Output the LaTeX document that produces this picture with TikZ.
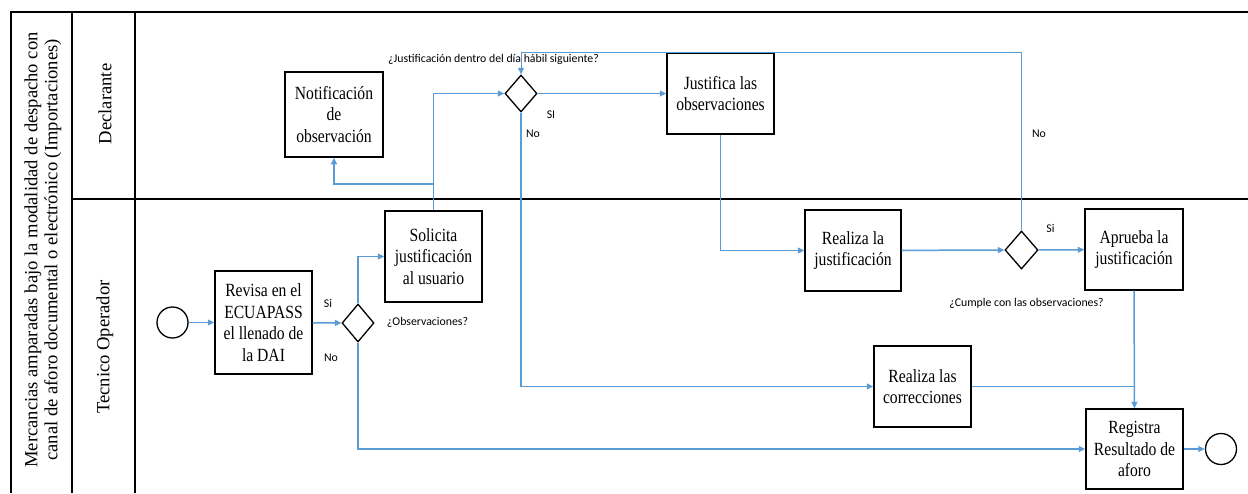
\documentclass[tikz,border=0pt]{standalone}
\usepackage{fontspec}
\setmainfont{Liberation Serif}
\newfontfamily\boxfont{Liberation Serif}[FakeStretch=0.84]
\newfontfamily\lblfont{Carlito}
\usetikzlibrary{shapes.geometric,arrows.meta}
\definecolor{flujo}{RGB}{91,155,213}
\begin{document}
\begin{tikzpicture}  % ------ aforo documental : declarante / tecnico -------------------
      [x=0.5pt,y=-0.5pt,
       tarea/.style={draw,line width=0.65pt,align=center,inner sep=1pt,
                     font=\boxfont\fontsize{9.3}{10.75}\selectfont},
       decision/.style={draw,diamond,line width=0.65pt,inner sep=0pt,
                        minimum width=16pt,minimum height=19pt},
       evento/.style={draw,circle,line width=0.65pt,minimum size=15.5pt,inner sep=0pt},
       flecha/.style={draw=flujo,line width=0.75pt,-{Triangle[length=3.3pt,width=3pt]}},
       traza/.style={draw=flujo,line width=0.75pt},
       rotulo/.style={font=\lblfont\fontsize{5.9}{7}\selectfont,inner sep=0pt},
       carril/.style={font=\fontsize{9.3}{10}\selectfont,rotate=90,align=center}]
    \useasboundingbox (0,0) rectangle (1248,493);
    % marco y carriles
    \draw [line width=0.8pt] (11,493) -- (11,12) -- (1248,12) ;
    \draw [line width=0.8pt] (72,12) -- (72,493) ; \draw [line width=0.8pt] (135,12) -- (135,493) ;
    \draw [line width=0.8pt] (72,199) -- (1248,199) ;
    \node [carril] (titulo) at (43,250) {Mercancias amparadas bajo la modalidad de despacho con\\canal de aforo documental o electrónico (Importaciones)} ;
    \node [carril] (decl) at (105,104) {Declarante} ;
    \node [carril] (tecn) at (105,347) {Tecnico Operador} ;
    % nodos
    \node [evento] (ini) at (172.5,322.5) {} ;
    \node [tarea,minimum width=48.5pt,minimum height=51.5pt] (revisa) at (263.5,322.5) {Revisa en el\\ECUAPASS\\el llenado de\\la DAI} ;
    \node [decision] (obs) at (358,323) {} ;
    \node [tarea,minimum width=48.5pt,minimum height=45.5pt] (solicita) at (433.5,256.5) {Solicita\\justificación\\al usuario} ;
    \node [tarea,minimum width=49pt,minimum height=42.5pt] (notif) at (334,114.5) {Notificación\\de\\observación} ;
    \node [decision,minimum height=18.5pt] (dia) at (521,93.5) {} ;
    \node [tarea,minimum width=53.5pt,minimum height=40.5pt] (justifica) at (720.5,93.5) {Justifica las\\observaciones} ;
    \node [tarea,minimum width=48pt,minimum height=40.5pt] (realiza) at (853,250.5) {Realiza la\\justificación} ;
    \node [decision,minimum width=16.5pt] (cumple) at (1021.5,250) {} ;
    \node [tarea,minimum width=49pt,minimum height=40.5pt] (aprueba) at (1134,249.5) {Aprueba la\\justificación} ;
    \node [tarea,minimum width=48.5pt,minimum height=40.5pt] (correc) at (922.5,386.5) {Realiza las\\correcciones} ;
    \node [tarea,minimum width=48.5pt,minimum height=40pt] (registra) at (1134.5,449) {Registra\\Resultado de\\aforo} ;
    \node [evento] (fin) at (1221,449) {} ;
    % rotulos
    \node [rotulo] (si1) at (328,303) {Si} ; \node [rotulo] (no1) at (331,358) {No} ;
    \node [rotulo] (pobs) at (427.5,322) {¿Observaciones?} ;
    \node [rotulo] (pdia) at (493.5,59) {¿Justificación dentro del día hábil siguiente?} ;
    \node [rotulo] (si2) at (551,115) {SI} ; \node [rotulo] (no2) at (533,134) {No} ;
    \node [rotulo] (no3) at (1039,134) {No} ; \node [rotulo] (si3) at (1050.5,228) {Si} ;
    \node [rotulo] (pcumple) at (1026.5,303) {¿Cumple con las observaciones?} ;
    % flujo
    \coordinate (rep) at (433.5,184) ;
    \coordinate (vuelta) at (521,52) ;
    \draw [flecha] (ini) -- (revisa) ;
    \draw [flecha] (revisa) -- (obs) ;
    \draw [flecha] (obs.north) |- (solicita.west) ;
    \draw [flecha] (obs.south) |- (registra.west) ;
    \draw [traza] (solicita.north) -- (rep) ;
    \draw [flecha] (rep) -| (notif.south) ;
    \draw [flecha] (rep) |- (dia.west) ;
    \draw [flecha] (dia) -- (justifica) ;
    \draw [flecha] (dia.south) |- (correc.west) ;
    \draw [flecha] (justifica.south) |- (realiza.west) ;
    \draw [flecha] (realiza) -- (cumple) ;
    \draw [flecha] (cumple) -- (aprueba) ;
    \draw [flecha,line width=0.5pt] (cumple.north) |- (vuelta) -- (dia.north) ;
    \draw [flecha] (aprueba) -- (registra) ;
    \draw [traza] (correc.east) -- (aprueba.south |- correc.east) ;
    \draw [flecha] (registra) -- (fin) ;
\end{tikzpicture}
\end{document}
